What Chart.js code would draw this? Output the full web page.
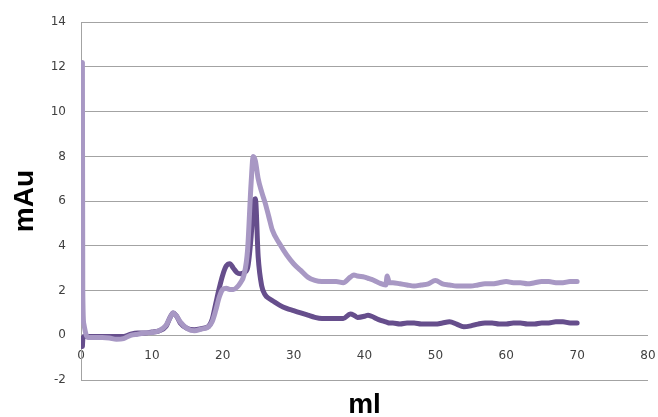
<!DOCTYPE html>
<html>
<head>
<meta charset="utf-8">
<script src="https://cdn.jsdelivr.net/npm/chart.js@4.4.1/dist/chart.umd.min.js"></script>
<style>
  html, body { margin: 0; padding: 0; background: #ffffff; }
  #wrap { width: 658px; height: 417px; }
</style>
</head>
<body>
<div id="wrap"><canvas id="c" width="658" height="417"></canvas></div>
<script>
const ml = [
  0.2, 0.25, 0.4, 0.7, 1, 2, 3, 4, 5, 6,
  7, 8, 9, 10, 11, 12, 12.5, 13, 13.5, 14,
  15, 16, 17, 18, 18.5, 19, 19.5, 20, 20.5, 21,
  21.5, 22, 22.5, 23, 23.5, 24, 24.3, 24.6, 25, 25.5,
  26, 26.5, 27, 28, 29, 30, 31, 32, 33, 34,
  35, 36, 37, 38, 38.5, 39, 40, 40.5, 41, 42,
  43, 43.2, 43.5, 44, 45, 46, 47, 48, 49, 50,
  51, 52, 53, 54, 55, 56, 57, 58, 59, 60,
  61, 62, 63, 64, 65, 66, 67, 68, 69, 70
];

const lightSeries = [
  12.2, 2.0, 0.5, 0.05, -0.1, -0.1, -0.1, -0.12, -0.18, -0.15,
  0.0, 0.05, 0.1, 0.12, 0.2, 0.45, 0.75, 1.0, 0.85, 0.6,
  0.3, 0.2, 0.28, 0.38, 0.6, 1.1, 1.7, 2.05, 2.1, 2.05,
  2.05, 2.15, 2.35, 2.7, 3.8, 6.8, 8.0, 7.8, 7.0, 6.4,
  5.9, 5.3, 4.7, 4.1, 3.6, 3.2, 2.9, 2.6, 2.45, 2.4,
  2.4, 2.4, 2.35, 2.6, 2.7, 2.65, 2.6, 2.55, 2.5, 2.35,
  2.25, 2.65, 2.35, 2.35, 2.3, 2.25, 2.2, 2.25, 2.3, 2.45,
  2.3, 2.25, 2.2, 2.2, 2.2, 2.25, 2.3, 2.3, 2.35, 2.4,
  2.35, 2.35, 2.3, 2.35, 2.4, 2.4, 2.35, 2.35, 2.4, 2.4
];

const darkSeries = [
  -0.5, -0.2, -0.05, -0.05, -0.05, -0.05, -0.05, -0.05, -0.05, -0.05,
  0.05, 0.1, 0.1, 0.15, 0.2, 0.4, 0.75, 1.0, 0.85, 0.55,
  0.3, 0.25, 0.3, 0.4, 0.7, 1.4, 2.1, 2.7, 3.1, 3.2,
  3.0, 2.8, 2.75, 2.8, 3.0, 4.4, 5.8, 6.1, 3.5, 2.2,
  1.8, 1.65, 1.55, 1.35, 1.2, 1.1, 1.0, 0.9, 0.8, 0.75,
  0.75, 0.75, 0.75, 0.95, 0.9, 0.8, 0.85, 0.9, 0.85, 0.7,
  0.6, 0.58, 0.55, 0.55, 0.5, 0.55, 0.55, 0.5, 0.5, 0.5,
  0.55, 0.6, 0.5, 0.38, 0.42, 0.5, 0.55, 0.55, 0.5, 0.5,
  0.55, 0.55, 0.5, 0.5, 0.55, 0.55, 0.6, 0.6, 0.55, 0.55
];

const xTicks = [0, 10, 20, 30, 40, 50, 60, 70, 80];
const yTicks = [-2, 0, 2, 4, 6, 8, 10, 12, 14];
const xTitle = 'ml';
const yTitle = 'mAu';

const toPoints = (xs, ys) => xs.map((x, i) => ({ x: x, y: ys[i] }));

const gridColor = '#a3a3a3';
const tickFont = { family: 'DejaVu Sans', size: 12 };
const tickColor = '#404040';

new Chart(document.getElementById('c'), {
  type: 'line',
  data: {
    datasets: [
      {
        label: 'light',
        data: toPoints(ml, lightSeries),
        borderColor: '#a898c4',
        borderWidth: 5,
        pointRadius: 0,
        fill: false,
        cubicInterpolationMode: 'monotone',
        borderCapStyle: 'round',
        borderJoinStyle: 'round'
      },
      {
        label: 'dark',
        data: toPoints(ml, darkSeries),
        borderColor: '#664e8c',
        borderWidth: 5,
        pointRadius: 0,
        fill: false,
        cubicInterpolationMode: 'monotone',
        borderCapStyle: 'round',
        borderJoinStyle: 'round'
      }
    ]
  },
  options: {
    responsive: false,
    animation: false,
    events: [],
    layout: { padding: { top: 20, right: 10, bottom: 0, left: 0 } },
    plugins: { legend: { display: false }, tooltip: { enabled: false } },
    scales: {
      x: {
        type: 'linear',
        position: { y: 0 },
        min: xTicks[0],
        max: xTicks[xTicks.length - 1],
        afterBuildTicks: (s) => { s.ticks = xTicks.map(v => ({ value: v })); },
        grid: { display: false, drawTicks: false },
        border: { display: false },
        ticks: { font: tickFont, color: tickColor, padding: 13, maxRotation: 0, autoSkip: false },
        afterFit: (s) => { s.paddingLeft = 0; s.paddingRight = 0; }
      },
      xt: {
        type: 'linear',
        position: 'bottom',
        min: xTicks[0],
        max: xTicks[xTicks.length - 1],
        grid: { display: false, drawTicks: false },
        border: { display: false },
        ticks: { display: false },
        title: {
          display: true,
          text: xTitle,
          font: { family: 'Liberation Sans', size: 28, weight: 'bold', lineHeight: 0.85 },
          color: '#000000',
          padding: 0
        },
        afterFit: (s) => { s.height = 37; s.paddingLeft = 0; s.paddingRight = 0; }
      },
      y: {
        type: 'linear',
        position: 'left',
        min: yTicks[0],
        max: yTicks[yTicks.length - 1],
        afterBuildTicks: (s) => { s.ticks = yTicks.map(v => ({ value: v })); },
        grid: { color: gridColor, lineWidth: 1, drawTicks: false },
        border: { display: true, color: gridColor, width: 1 },
        ticks: { font: tickFont, color: tickColor, padding: 15 },
        title: {
          display: true,
          text: yTitle,
          font: { family: 'Liberation Sans', size: 28, weight: 'bold', lineHeight: 1.2 },
          color: '#000000',
          padding: { top: 8, bottom: 0 }
        },
        afterFit: (s) => { s.width = 81; }
      }
    }
  }
});
</script>
</body>
</html>
